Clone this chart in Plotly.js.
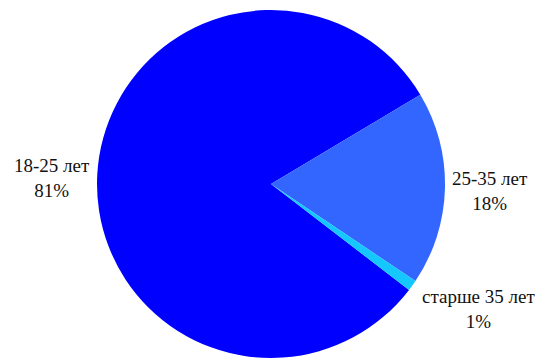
<!DOCTYPE html>
<html>
<head>
<meta charset="utf-8">
<script src="https://cdn.plot.ly/plotly-3.0.1.min.js"></script>
<style>html,body{margin:0;padding:0;background:#fff;}#chart{width:535px;height:361px;}</style>
</head>
<body>
<div id="chart"></div>
<script>
var labels = ['18-25 лет', '25-35 лет', 'старше 35 лет'];
var values = [81, 18, 1];
var colors = ['#0000FF', '#3366FF', '#14C8FF'];

// label positions (paper coordinates)
var labelPos = [
  {x: 0.0972, y: 0.507},
  {x: 0.915, y: 0.472},
  {x: 0.894, y: 0.144}
];

var annotations = labels.map(function (l, i) {
  return {
    x: labelPos[i].x, y: labelPos[i].y, xref: 'paper', yref: 'paper',
    xanchor: 'center', yanchor: 'middle', showarrow: false,
    text: l + '<br>' + values[i] + '%',
    font: {family: 'Times New Roman', size: 19, color: '#111'}
  };
});

var trace = {
  type: 'pie',
  labels: labels,
  values: values,
  sort: false,
  direction: 'clockwise',
  rotation: 127.5,
  marker: {colors: colors, line: {width: 0}},
  textinfo: 'none',
  hoverinfo: 'label+percent',
  domain: {x: [0.1813, 0.8318], y: [0.0083, 0.9723]},
  showlegend: false
};

var layout = {
  width: 535, height: 361,
  margin: {l: 0, r: 0, t: 0, b: 0},
  paper_bgcolor: '#fff',
  font: {family: 'Times New Roman'},
  showlegend: false,
  annotations: annotations
};

Plotly.newPlot('chart', [trace], layout, {displayModeBar: false, staticPlot: true});
</script>
</body>
</html>
